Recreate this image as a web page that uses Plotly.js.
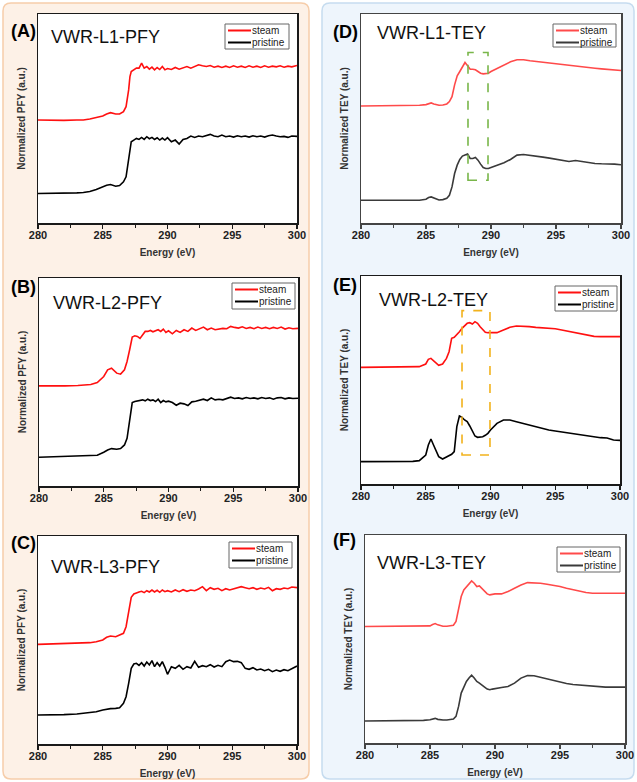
<!DOCTYPE html>
<html><head><meta charset="utf-8">
<script src="https://cdn.plot.ly/plotly-3.0.1.min.js"></script>
<style>html,body{margin:0;padding:0;background:#fff}#chart{width:637px;height:782px}</style>
</head><body><div id="chart"></div>
<script>
// ---------- DATA ----------
const seriesNames = ['steam', 'pristine'];
const xTicks = [280, 285, 290, 295, 300];

const xPFY = [280,281,282,283,283.5,284,284.5,285,285.3,285.6,286,286.3,286.6,286.8,287,287.1,287.2,287.4,287.6,287.8,288,288.2,288.4,288.6,288.8,289,289.2,289.4,289.6,289.8,290,290.3,290.6,290.9,291.2,291.5,291.8,292.1,292.4,292.7,293,293.3,293.6,293.9,294.2,294.5,294.8,295.1,295.4,295.7,296,296.3,296.6,296.9,297.2,297.5,297.8,298.1,298.4,298.7,299,299.3,299.6,300];

const steamA = [308,307,307,308,308, 311,316,320,326,330, 326,326,333,348,398, 438,453,458,463,463, 478,463,468,460,466, 458,465,459,468,458, 462,459,465,460,464, 468,463,468,473,470, 468,471,466,469,465, 469,465,470,466,469, 465,470,466,469,465, 470,466,469,467,470, 466,469,467,471];
const pristineA = [88,88,89,90,91, 94,100,108,113,115, 110,112,123,138,198, 228,243,248,253,250, 256,250,258,252,256, 250,255,248,254,248, 255,243,248,236,250, 253,260,256,260,258, 262,265,260,258,263, 258,260,257,261,258, 260,257,261,258,260, 257,261,263,260,258, 259,256,260,259];

const steamB = [300,299,300,301,302, 304,310,328,348,353, 338,335,348,373,408, 433,446,450,448,442, 453,463,463,466,462, 465,468,463,470,460, 465,456,466,460,468, 463,473,466,470,476, 468,473,468,470,472, 471,478,475,473,477, 472,475,471,476,472, 475,471,475,472,476, 470,474,471,472];
const pristineB = [86,87,88,89,90, 90,92,101,108,112, 110,112,123,143,193, 228,250,253,255,256, 258,255,260,256,258, 253,260,250,256,252, 254,250,242,248,246, 241,252,254,258,260, 256,264,258,260,258, 263,266,262,264,261, 265,262,264,261,265, 262,264,260,264,265, 261,264,262,263];

const steamC = [299,300,300,301,302, 304,307,312,320,324, 322,326,332,352,392, 422,440,450,454,456, 458,454,460,456,462, 456,461,455,462,457, 460,456,462,457,463, 458,462,460,465,472, 460,469,464,467,460, 466,462,465,469,472, 469,466,469,464,468, 465,470,460,466,464, 468,466,471,469];
const pristineC = [87,87,88,90,92, 94,97,102,105,106, 107,109,122,142,182, 207,227,240,242,236, 244,234,246,237,250, 232,244,234,247,230, 209,232,227,236,224, 232,228,248,230,235, 232,238,231,236,232, 247,252,247,248,244, 227,224,229,222,225, 220,224,217,222,218, 223,220,227,234];

const xTEY = [280,281,282,283,284,284.5,285,285.2,285.4,285.6,285.8,286,286.3,286.6,286.8,287,287.2,287.4,287.6,287.8,288,288.2,288.4,288.6,288.8,289,289.2,289.4,289.6,289.8,290,290.5,291,291.5,292,292.5,293,293.5,294,294.5,295,295.5,296,296.5,297,297.5,298,298.5,299,299.5,300];

const steamD = [350,350,350,351,351, 352,354,357,359,356, 353,352,353,356,363, 378,413,440,453,468, 480,470,460,460,458, 453,448,446,446,448, 453,463,473,482,488, 488,485,483,480,478, 476,474,472,470,468, 465,463,461,459,457, 456];
const pristineD = [68,68,68,68,68, 68,71,76,78,75, 71,69,70,74,83, 108,148,173,190,200, 203,206,193,193,196, 188,176,166,163,163, 166,172,180,190,203, 205,203,200,197,194, 190,187,184,187,184, 180,178,177,177,176, 174];

const steamE = [350,350,350,350,350, 352,360,374,377,370, 362,356,360,377,397, 437,440,447,457,467, 474,482,484,480,487, 482,472,462,455,454, 454,454,462,470,474, 474,472,470,469,467, 466,462,458,454,450, 446,443,442,442,442, 442];
const pristineE = [67,67,67,68,68, 70,87,117,135,117, 97,82,75,82,85, 89,97,172,204,200, 192,187,174,157,144, 140,140,142,146,152, 162,182,192,192,187, 182,176,171,166,162, 159,156,152,149,147, 145,142,139,138,132, 131];

const steamF = [350,350,350,350,350, 350,352,356,359,355, 352,351,351,352,354, 365,400,440,460,470, 480,487,480,470,472, 465,455,448,445,446, 448,448,455,465,475, 482,482,480,477,474, 470,465,460,455,452, 450,450,450,450,450, 450];
const pristineF = [66,66,66,67,67, 68,70,72,74,71, 69,69,69,70,72, 80,110,150,170,185, 195,204,195,185,180, 175,168,162,160,162, 164,167,170,180,195, 203,202,197,192,187, 183,179,176,174,172, 171,169,168,168,168, 168];

// highlighted energy windows (eV, a.u.)
const boxD = {x: [288.23, 289.77], y: [128, 510]};
const boxE = {x: [287.8, 289.96], y: [87, 520]};

// ---------- LAYOUT ----------
const W = 637, H = 782;
const fx = p => p / W, fy = p => 1 - p / H;
const FONT = 'Liberation Sans, Arial, sans-serif';

const panels = [
  {label:'(A)', title:'VWR-L1-PFY', x:xPFY, s:steamA, p:pristineA, yt:'Normalized PFY (a.u.)', plot:[38,297,14,223], ymax:625, leg:[225,289,24,49], lab:[9,31], tit:[49,37], cs:'#ff1010', cp:'#000000'},
  {label:'(B)', title:'VWR-L2-PFY', x:xPFY, s:steamB, p:pristineB, yt:'Normalized PFY (a.u.)', plot:[39,298,278,486], ymax:623, leg:[232,295,283,309], lab:[9,287], tit:[51,303], cs:'#ff1010', cp:'#000000'},
  {label:'(C)', title:'VWR-L3-PFY', x:xPFY, s:steamC, p:pristineC, yt:'Normalized PFY (a.u.)', plot:[38,297,536,744], ymax:624, leg:[229,292,542,568], lab:[9,543], tit:[49,567], cs:'#ff1010', cp:'#000000'},
  {label:'(D)', title:'VWR-L1-TEY', x:xTEY, s:steamD, p:pristineD, yt:'Normalized TEY (a.u.)', plot:[361,621,14,223], ymax:625, leg:[553,616,24,47], lab:[331,32], tit:[375,33], cs:'#ff4a4a', cp:'#3a3a3a'},
  {label:'(E)', title:'VWR-L2-TEY', x:xTEY, s:steamE, p:pristineE, yt:'Normalized TEY (a.u.)', plot:[361,620,276,484], ymax:624, leg:[555,617,286,311], lab:[331,285], tit:[377,300], cs:'#ff1010', cp:'#000000'},
  {label:'(F)', title:'VWR-L3-TEY', x:xTEY, s:steamF, p:pristineF, yt:'Normalized TEY (a.u.)', plot:[365,625,535,743], ymax:625, leg:[557,620,547,572], lab:[331,540], tit:[375,563], cs:'#ff4a4a', cp:'#3a3a3a'}
];

function rrect(x0, x1, y0, y1, r) {
  const X = v => fx(v).toFixed(5), Y = v => fy(v).toFixed(5);
  return `M${X(x0+r)},${Y(y0)} L${X(x1-r)},${Y(y0)} Q${X(x1)},${Y(y0)} ${X(x1)},${Y(y0+r)} ` +
         `L${X(x1)},${Y(y1-r)} Q${X(x1)},${Y(y1)} ${X(x1-r)},${Y(y1)} L${X(x0+r)},${Y(y1)} ` +
         `Q${X(x0)},${Y(y1)} ${X(x0)},${Y(y1-r)} L${X(x0)},${Y(y0+r)} Q${X(x0)},${Y(y0)} ${X(x0+r)},${Y(y0)} Z`;
}

const traces = [];
const shapes = [
  {type:'path', xref:'paper', yref:'paper', path: rrect(3, 309, 3, 779, 8), fillcolor:'#fdf1e7', line:{color:'#f6cdaa', width:1.5}, layer:'below'},
  {type:'path', xref:'paper', yref:'paper', path: rrect(322, 634, 3, 779, 8), fillcolor:'#eef5fc', line:{color:'#c6dcef', width:1.5}, layer:'below'}
];
const annotations = [];
const layout = {
  width: W, height: H, margin: {l:0, r:0, t:0, b:0},
  paper_bgcolor: '#ffffff', plot_bgcolor: 'rgba(0,0,0,0)',
  showlegend: false, font: {family: FONT}
};

panels.forEach((P, i) => {
  const s = i === 0 ? '' : String(i + 1);
  const [x0, x1, y0, y1] = P.plot;
  const axc = i === 3 || i === 5 ? '#444' : '#1a1a1a';
  layout['xaxis' + s] = {
    domain: [fx(x0), fx(x1)], anchor: 'y' + s, range: [280, 300],
    tickmode: 'array', tickvals: xTicks, ticktext: xTicks.map(String),
    ticks: 'outside', ticklen: 4, tickwidth: 1.2, tickcolor: axc,
    ticklabelstandoff: -3,
    minor: {dtick: 2.5, tick0: 280, ticks: 'outside', ticklen: 3, tickwidth: 1, tickcolor: axc},
    showline: true, linecolor: axc, linewidth: 1.5, mirror: true,
    showgrid: false, zeroline: false, automargin: false,
    tickfont: {family: FONT, size: 11, weight: 700, color: '#222'},
    title: {text: 'Energy (eV)', font: {family: FONT, size: 10, weight: 700, color: '#333'}, standoff: 9}
  };
  layout['yaxis' + s] = {
    domain: [fy(y1), fy(y0)], anchor: 'x' + s, range: [0, P.ymax],
    showline: true, linecolor: axc, linewidth: 1.5, mirror: true,
    showgrid: false, zeroline: false, showticklabels: false, ticks: '', automargin: false,
    title: {text: P.yt, font: {family: FONT, size: 10, weight: 700, color: '#333'}, standoff: 9}
  };
  // white plot area
  shapes.push({type:'rect', xref:'paper', yref:'paper', x0:fx(x0), x1:fx(x1), y0:fy(y1), y1:fy(y0), fillcolor:'#ffffff', line:{width:0}, layer:'below'});

  traces.push({x: P.x, y: P.s, xaxis: 'x' + s, yaxis: 'y' + s, mode: 'lines', name: seriesNames[0], line: {color: P.cs, width: 1.6}, hoverinfo: 'skip'});
  traces.push({x: P.x, y: P.p, xaxis: 'x' + s, yaxis: 'y' + s, mode: 'lines', name: seriesNames[1], line: {color: P.cp, width: 1.6}, hoverinfo: 'skip'});

  annotations.push({xref:'paper', yref:'paper', x: fx(P.lab[0]), y: fy(P.lab[1]), xanchor:'left', yanchor:'middle', showarrow:false, text: P.label, font:{family: FONT, size: 18, weight: 700, color:'#000'}});
  annotations.push({xref:'paper', yref:'paper', x: fx(P.tit[0]), y: fy(P.tit[1]), xanchor:'left', yanchor:'middle', showarrow:false, text: P.title, font:{family: FONT, size: 18, color:'#111'}});

  // legend box
  const [lx0, lx1, ly0, ly1] = P.leg;
  shapes.push({type:'rect', xref:'paper', yref:'paper', x0:fx(lx0), x1:fx(lx1), y0:fy(ly1), y1:fy(ly0), fillcolor:'#ffffff', line:{color:'#666', width:1}, layer:'above'});
  const rows = [ly0 + 6.5, ly0 + 18.5];
  [P.cs, P.cp].forEach((c, k) => {
    shapes.push({type:'line', xref:'paper', yref:'paper', x0:fx(lx0 + 3), x1:fx(lx0 + 26), y0:fy(rows[k]), y1:fy(rows[k]), line:{color:c, width:2}, layer:'above'});
    annotations.push({xref:'paper', yref:'paper', x: fx(lx0 + 26), y: fy(rows[k]), xanchor:'left', yanchor:'middle', showarrow:false, text: seriesNames[k], font:{family: FONT, size: 10, color:'#222'}, borderpad: 0});
  });
});

shapes.push({type:'rect', xref:'x4', yref:'y4', x0: boxD.x[0], x1: boxD.x[1], y0: boxD.y[0], y1: boxD.y[1], line:{color:'#79b64a', width:1.6, dash:'dash'}, fillcolor:'rgba(0,0,0,0)', layer:'above'});
shapes.push({type:'rect', xref:'x5', yref:'y5', x0: boxE.x[0], x1: boxE.x[1], y0: boxE.y[0], y1: boxE.y[1], line:{color:'#f2b21c', width:1.6, dash:'dash'}, fillcolor:'rgba(0,0,0,0)', layer:'above'});

layout.shapes = shapes;
layout.annotations = annotations;

Plotly.newPlot('chart', traces, layout, {staticPlot: true, displayModeBar: false});
</script>
</body></html>
